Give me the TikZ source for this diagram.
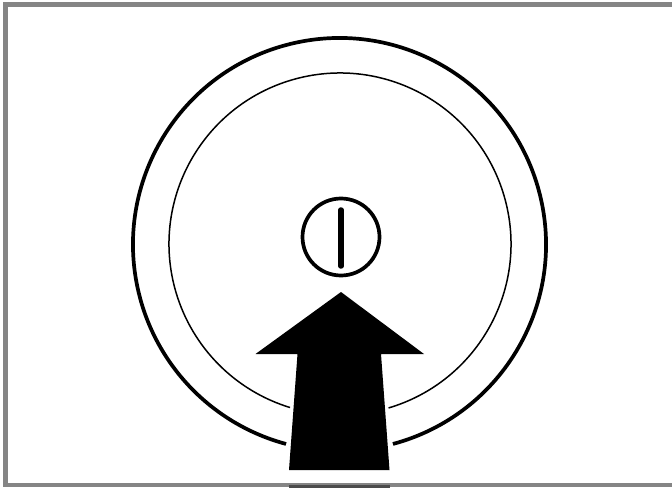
\documentclass[tikz,border=0pt]{standalone}
\tikzset{
  framestroke/.style={draw=black!48,line width=4.5pt},
  ringthick/.style={draw=black,line width=3.7pt},
  ringthin/.style={draw=black,line width=1.5pt},
  arrowfill/.style={fill=black,draw=none}
}
\begin{document}
\begin{tikzpicture}[x=1pt,y=1pt]
\useasboundingbox (0,0) rectangle (672,488);
\fill[white] (0,0) rectangle (672,488);
% frame
\draw[framestroke] (5.5,3) rectangle (680,483.5);
\fill[black!70] (289,0) rectangle (390,3.5);
% rings (y measured upward: y = 488 - image y)
\draw[ringthick] ([shift={(339.5,243.5)}]-75:206.5) arc[start angle=-75,end angle=255,radius=206.5];
\draw[ringthin] ([shift={(340,244)}]-73.5:171) arc[start angle=-73.5,end angle=253,radius=171];
% slot symbol
\draw[ringthick] (341,251) circle[radius=38.5];
\draw[black,line width=5.5pt,line cap=round] (341,278) -- (341,222);
% arrow
\fill[arrowfill] (341,196) -- (424,134) -- (381,134) -- (389.5,18) -- (289,18) -- (297.5,134) -- (255.5,134) -- cycle;
\end{tikzpicture}
\end{document}
